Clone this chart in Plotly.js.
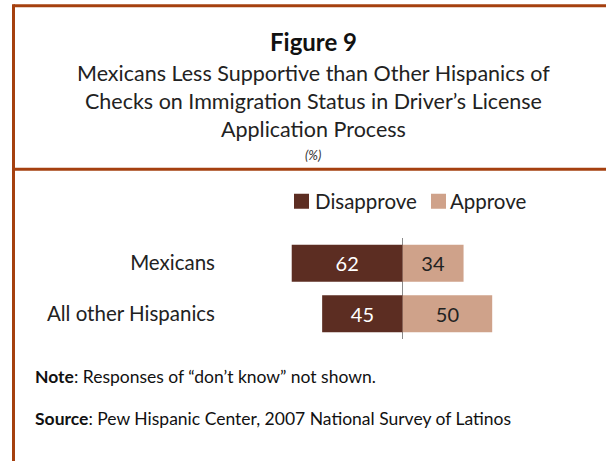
<!DOCTYPE html>
<html>
<head>
<meta charset="utf-8">
<script src="https://cdn.plot.ly/plotly-3.0.1.min.js"></script>
<style>html,body{margin:0;padding:0;background:#fff;}#chart{width:606px;height:461px;}</style>
</head>
<body>
<div id="chart"></div>
<script>
const categories = ["Mexicans", "All other Hispanics"];
const disapprove = [62, 45];
const approve = [34, 50];
const seriesNames = ["Disapprove", "Approve"];
const titleLines = [
  "Mexicans Less Supportive than Other Hispanics of",
  "Checks on Immigration Status in Driver’s License",
  "Application Process"
];

const FONT = "Lato, 'Open Sans', sans-serif";
const DARK = "#5C2D22";
const LIGHT = "#CFA28A";
const BORDER = "#A5400F";

// paper-coordinate helpers (plot area: left 216, width 312; top 238, height 101)
const PX = px => (px - 216) / 312;
const PY = py => (339.25 - py) / 101;

const traces = [
  {
    type: "bar", orientation: "h", name: seriesNames[0],
    y: categories, x: disapprove.map(v => -v),
    text: disapprove.map(String), textposition: "inside", insidetextanchor: "middle",
    textfont: {family: FONT, size: 20, color: "#ffffff"},
    marker: {color: DARK}, width: 0.73, hoverinfo: "skip", cliponaxis: false, showlegend: false
  },
  {
    type: "bar", orientation: "h", name: seriesNames[1],
    y: categories, x: approve,
    text: approve.map(String), textposition: "inside", insidetextanchor: "middle",
    textfont: {family: FONT, size: 20, color: "#222222"},
    marker: {color: LIGHT}, width: 0.73, hoverinfo: "skip", cliponaxis: false, showlegend: false
  }
];

const annotations = [
  {text: "<b>Figure 9</b>", xref: "paper", yref: "paper", x: PX(313), y: PY(42), showarrow: false,
   xanchor: "center", yanchor: "middle", font: {family: FONT, size: 24, color: "#111"}},
  {text: titleLines.join("<br>"), xref: "paper", yref: "paper", x: PX(313), y: PY(101), showarrow: false,
   xanchor: "center", yanchor: "middle", align: "center", font: {family: FONT, size: 21.5, color: "#222"}},
  {text: "<i>(%)</i>", xref: "paper", yref: "paper", x: PX(313), y: PY(155), showarrow: false,
   xanchor: "center", yanchor: "middle", font: {family: FONT, size: 13, color: "#333"}},
  {text: "<b>Note</b>: Responses of “don’t know” not shown.", xref: "paper", yref: "paper",
   x: PX(33), y: PY(377), showarrow: false, xanchor: "left", yanchor: "middle",
   font: {family: FONT, size: 17.5, color: "#111"}},
  {text: "<b>Source</b>: Pew Hispanic Center, 2007 National Survey of Latinos", xref: "paper", yref: "paper",
   x: PX(33), y: PY(419), showarrow: false, xanchor: "left", yanchor: "middle",
   font: {family: FONT, size: 17.5, color: "#111"}},
  {text: seriesNames[0], xref: "paper", yref: "paper", x: PX(313), y: PY(201.5), showarrow: false,
   xanchor: "left", yanchor: "middle", font: {family: FONT, size: 20.5, color: "#222"}},
  {text: seriesNames[1], xref: "paper", yref: "paper", x: PX(448), y: PY(201.5), showarrow: false,
   xanchor: "left", yanchor: "middle", font: {family: FONT, size: 20.5, color: "#222"}}
];

const layout = {
  width: 606, height: 461,
  margin: {l: 216, r: 78, t: 238, b: 122, pad: 0},
  paper_bgcolor: "#ffffff", plot_bgcolor: "#ffffff",
  barmode: "relative",
  showlegend: false,
  font: {family: FONT, color: "#222"},
  xaxis: {range: [-104.3, 70], showgrid: false, showticklabels: false, ticks: "",
          zeroline: true, zerolinecolor: "#8a8a8a", zerolinewidth: 1, showline: false, fixedrange: true},
  yaxis: {type: "category", autorange: "reversed", showgrid: false, zeroline: false, showline: false,
          ticks: "", tickfont: {family: FONT, size: 20.5, color: "#222"}, fixedrange: true},
  annotations: annotations,
  shapes: [
    {type: "line", xref: "paper", yref: "paper", x0: PX(13.5), x1: 1.3, y0: PY(6), y1: PY(6),
     line: {color: BORDER, width: 3}},
    {type: "line", xref: "paper", yref: "paper", x0: PX(13.5), x1: 1.3, y0: PY(169.5), y1: PY(169.5),
     line: {color: BORDER, width: 3}},
    {type: "line", xref: "paper", yref: "paper", x0: PX(13.5), x1: PX(13.5), y0: PY(4.5), y1: PY(465),
     line: {color: BORDER, width: 3}},
    {type: "rect", xref: "paper", yref: "paper", x0: PX(294), x1: PX(309), y0: PY(194), y1: PY(209),
     fillcolor: DARK, line: {width: 0}},
    {type: "rect", xref: "paper", yref: "paper", x0: PX(431), x1: PX(446), y0: PY(194), y1: PY(209),
     fillcolor: LIGHT, line: {width: 0}}
  ]
};

Plotly.newPlot("chart", traces, layout, {displayModeBar: false, staticPlot: true});
</script>
</body>
</html>
